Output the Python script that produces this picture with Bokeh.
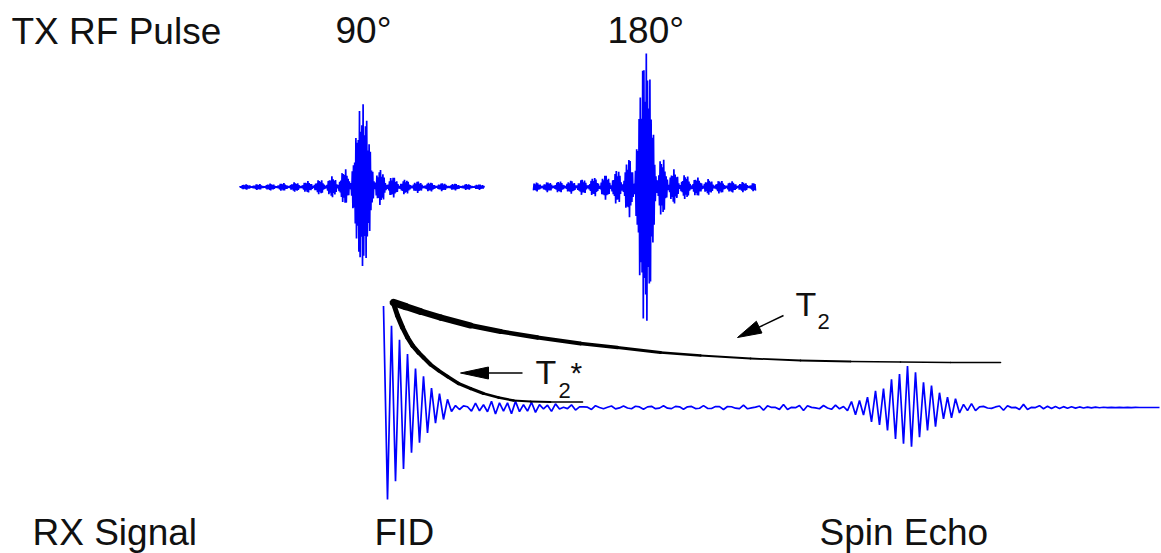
import numpy as np
from bokeh.plotting import figure
from bokeh.models import Range1d, ColumnDataSource
from bokeh.embed import file_html
from bokeh.resources import INLINE
from bokeh.core.properties import value

# ---------------- data (page pixel units) ----------------
# text labels (baseline positions)
main_labels = ["TX RF Pulse", "90°", "180°", "RX Signal", "FID", "Spin Echo"]
main_label_x = [11, 335, 607, 32, 374, 819]
main_label_y = [43, 42, 42, 544, 544, 544]

# transmitted RF pulses (sinc shaped)
pulse_names = ["90°", "180°"]
pulse_center = [362, 645]
pulse_peak = [84, 140]
pulse_start = [239, 533]
pulse_end = [484, 755]
pulse_lobe = [12.3, 11.5]
tx_baseline = 186.5

# received signal: FID + spin echo
rx_baseline = 407
fid_start = 383
fid_peak = 100
fid_decay = 46
echo_center = 907
echo_peak = 42
echo_decay = 40
rx_end = 1161
rx_ripple = 1.6
rx_ripple_end = 1040

# T2 envelope curve
t2_x = [393, 405, 420, 440, 470, 500, 537, 580, 617, 660, 700, 750, 800, 850, 900, 950, 1000]
t2_y = [302, 306, 311, 317, 325, 331, 337, 343, 347, 352, 355, 358, 360, 361, 361.5, 362, 362]
t2_w = [7.5, 7, 6.5, 6, 5, 4.5, 4, 3.5, 3.2, 2.6, 2.0, 1.8, 1.8, 1.6, 1.6, 1.6]

# T2* envelope curve
t2s_x = [393, 397, 402, 407, 412, 418, 423, 430, 438, 447, 458, 470, 483, 498, 513, 530, 550, 582]
t2s_y = [303, 315, 327, 337, 345, 352, 357, 364, 370, 376, 383, 388, 393, 397, 400, 401, 401.5, 401.5]
t2s_w = [5, 5, 4.8, 4.6, 4.4, 4.2, 4, 3.8, 3.6, 3.4, 3.2, 3, 2.8, 2.5, 2.2, 1.8, 1.6]

# arrows (T2*, T2)
arrow_tail_x = [522, 783]
arrow_tail_y = [372.5, 315]
arrow_tip_x = [460, 737]
arrow_tip_y = [372.5, 337]
arrow_head_len = [28, 24]
arrow_head_wid = [12, 13]

# subscript labels (baseline positions)
sym_labels = ["T", "T"]
sym_x = [535, 795]
sym_y = [383, 315]
sub_labels = ["2", "2"]
sub_x = [558, 817]
sub_y = [397, 328]
star_label = ["*"]
star_x = [570]
star_y = [382]

# ---------------- figure ----------------
p = figure(width=1161, height=553,
           x_range=Range1d(0, 1161), y_range=Range1d(553, 0),
           x_axis_type=None, y_axis_type=None,
           toolbar_location=None, output_backend="svg",
           min_border=0, outline_line_color=None,
           background_fill_color="white", border_fill_color="white")

blue = "#0000FF"

# TX pulses
for c, a, s, e, L in zip(pulse_center, pulse_peak, pulse_start, pulse_end, pulse_lobe):
    x = np.arange(s, e + 0.01, 0.6)
    k = np.arange(len(x))
    carrier = np.where(k % 2 == 0, 1.0, -1.0) * (0.8 + 0.2 * np.cos(0.35 * np.pi * k))
    y = tx_baseline - a * np.sinc((x - c) / L) * carrier
    p.line(x, y, line_color=blue, line_width=1.7)

# RX signal
x = np.arange(fid_start, rx_end + 0.01, 4.0)
phi = np.pi * (1 - 1 / 40)
fid_env = fid_peak * np.exp(-(x - fid_start) / fid_decay)
echo_env = echo_peak * np.exp(-np.abs(x - echo_center) / echo_decay)
rip = np.where(x < rx_ripple_end, rx_ripple, 0.0)
sig = (fid_env * np.cos(phi * (x - fid_start) / 4.0)
       + echo_env * np.cos(phi * (x - echo_center) / 4.0)
       + rip * np.cos(0.6 * np.pi * (x - fid_start) / 4.0))
p.line(x, rx_baseline - sig, line_color=blue, line_width=1.7)

# envelope curves
def seg_source(xs, ys, ws):
    return ColumnDataSource(dict(
        xs=[[xs[i], xs[i + 1]] for i in range(len(xs) - 1)],
        ys=[[ys[i], ys[i + 1]] for i in range(len(ys) - 1)],
        w=ws))

p.multi_line("xs", "ys", source=seg_source(t2_x, t2_y, t2_w),
             line_color="black", line_width="w", line_cap="round", line_join="round")
p.multi_line("xs", "ys", source=seg_source(t2s_x, t2s_y, t2s_w),
             line_color="black", line_width="w", line_cap="round", line_join="round")

# arrows
for tx, ty, hx, hy, hl, hw in zip(arrow_tail_x, arrow_tail_y, arrow_tip_x, arrow_tip_y,
                                  arrow_head_len, arrow_head_wid):
    dx, dy = hx - tx, hy - ty
    n = np.hypot(dx, dy)
    ux, uy = dx / n, dy / n
    bx, by = hx - ux * hl, hy - uy * hl
    nx, ny = -uy, ux
    p.line([tx, bx], [ty, by], line_color="black", line_width=1.5)
    p.patch([hx, bx + nx * hw / 2, bx - nx * hw / 2], [hy, by + ny * hw / 2, by - ny * hw / 2],
            fill_color="black", line_color="black", line_width=1)

# texts (bokeh places the alphabetic baseline about a third of an em low)
def draw_text(xs, ys, texts, size):
    shift = 0.33 * size
    p.text(xs, [y - shift for y in ys], text=texts,
           text_font=value("Liberation Sans"), text_font_size=value(f"{size}px"),
           text_color="#111111", text_baseline="alphabetic", text_align="left")

draw_text(main_label_x, main_label_y, main_labels, 37)
draw_text(sym_x, sym_y, sym_labels, 34)
draw_text(sub_x, sub_y, sub_labels, 22)
draw_text(star_x, star_y, star_label, 30)

open("out.html", "w").write(file_html(p, INLINE))
